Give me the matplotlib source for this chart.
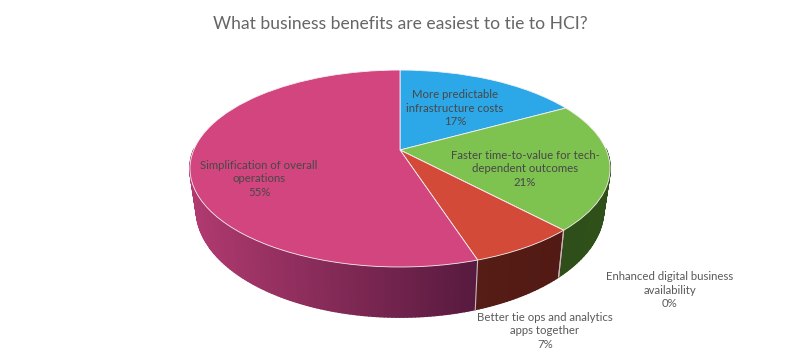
import numpy as np
import matplotlib
matplotlib.use("Agg")
import matplotlib.pyplot as plt
from matplotlib.collections import PolyCollection
from matplotlib.transforms import Transform

plt.rcParams['font.family'] = ['Lato', 'DejaVu Sans']

title = "What business benefits are easiest to tie to HCI?"
categories = ["More predictable\ninfrastructure costs",
              "Faster time-to-value for tech-\ndependent outcomes",
              "Enhanced digital business\navailability",
              "Better tie ops and analytics\napps together",
              "Simplification of overall\noperations"]
values = [17, 21, 0, 7, 55]
top_colors = ["#2ca8e9", "#7ec24f", "#8e5aa8", "#d44a39", "#d2457f"]
# wall colour at the left and right end of each slice's side
wall_left = ["#1a6a94", "#2f4f1a", "#5a3a6a", "#561c16", "#b03a70"]
wall_right = ["#1a6a94", "#30501a", "#5a3a6a", "#521a14", "#571a3e"]
label_xy = [(455, 108), (525, 169), (670, 290), (545, 331), (259, 179)]
label_colors = ["#484848", "#484848", "#5a5a5a", "#5a5a5a", "#484848"]


class Tilt(Transform):
    # perspective view of the unit disc, output in image pixels
    input_dims = 2
    output_dims = 2

    def __init__(self, sx=206.3, sy=95.0, y0=150.0, k=0.188):
        super().__init__()
        self.sx, self.sy, self.y0, self.k = sx, sy, y0, k

    def transform_non_affine(self, values):
        u, v = values[:, 0], values[:, 1]
        d = 1 + self.k * v
        return np.column_stack([400 + self.sx * u / d, self.y0 - self.sy * v / d])


top = Tilt()
base = Tilt(sx=200.0, sy=104.0, y0=189.0)


def hex_rgb(c):
    return np.array(matplotlib.colors.to_rgb(c))


fig = plt.figure(figsize=(8, 3.54), dpi=100)
ax = fig.add_axes([0, 0, 1, 1])

wedges, _ = ax.pie(values, colors=top_colors, startangle=90, counterclock=False,
                   wedgeprops=dict(edgecolor="#f6f0f2", linewidth=0.6))
ax.set_aspect('auto')
ax.set_xlim(0, 800)
ax.set_ylim(354, 0)
ax.axis('off')

for w in wedges:
    w.set_transform(top + ax.transData)
    w.set_zorder(5)

# side walls, built from the same slice angles
ends = np.cumsum(values) / sum(values) * 2 * np.pi
starts = np.r_[0, ends[:-1]]
for i in range(len(values)):
    if values[i] == 0:
        continue
    th = np.linspace(starts[i], ends[i], max(int(values[i] * 4), 2))
    unit = np.column_stack([np.sin(th), np.cos(th)])
    t_pts = top.transform(unit)
    b_pts = base.transform(unit)
    polys, cols = [], []
    x_lo, x_hi = b_pts[:, 0].min(), b_pts[:, 0].max()
    for j in range(len(th) - 1):
        # the far half is hidden behind the top face
        if unit[j, 1] > 0 and unit[j + 1, 1] > 0:
            continue
        polys.append([t_pts[j], t_pts[j + 1], b_pts[j + 1], b_pts[j]])
        f = (0.5 * (b_pts[j, 0] + b_pts[j + 1, 0]) - x_lo) / (x_hi - x_lo)
        cols.append((1 - f) * hex_rgb(wall_left[i]) + f * hex_rgb(wall_right[i]))
    if polys:
        ax.add_collection(PolyCollection(polys, facecolors=cols, edgecolors=cols,
                                         linewidths=1.2, zorder=2))
# light seams where the slices meet on the visible side
for e in ends:
    unit = np.array([[np.sin(e), np.cos(e)]])
    if unit[0, 1] < 0:
        p, q = top.transform(unit)[0], base.transform(unit)[0]
        ax.plot([p[0], q[0]], [p[1], q[1]], color="#c9b9b9", lw=0.8, zorder=3)

for name, val, (x, y), c in zip(categories, values, label_xy, label_colors):
    ax.text(x, y, f"{name}\n{val}%", ha='center', va='center', fontsize=8.2,
            color=c, linespacing=1.3, zorder=6)

fig.text(0.5, 1 - 24 / 354, title, ha='center', va='center', fontsize=12.6, color="#666666")

fig.savefig("out.png", dpi=100)
